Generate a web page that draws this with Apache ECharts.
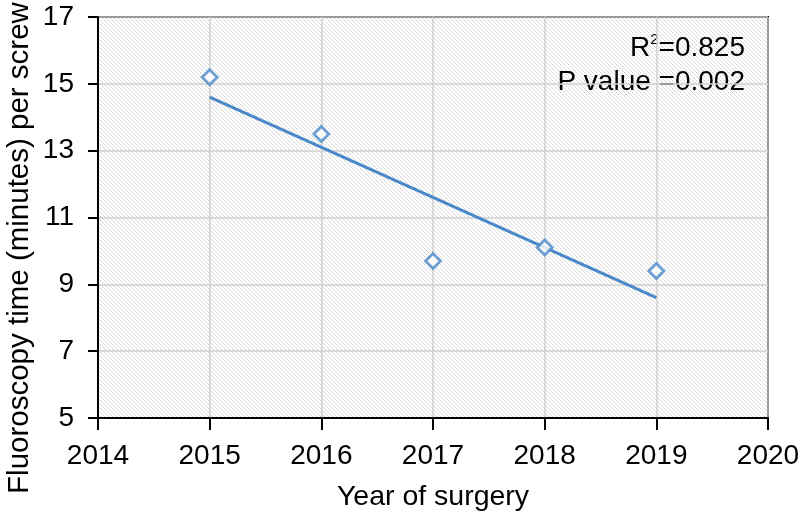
<!DOCTYPE html>
<html>
<head>
<meta charset="utf-8">
<script src="https://cdn.jsdelivr.net/npm/echarts@6/dist/echarts.min.js"></script>
<style>
  html, body { margin: 0; padding: 0; background: #fff; }
  #main { width: 800px; height: 520px; }
</style>
</head>
<body>
<div id="main"></div>
<script>
// data
var years = [2015, 2016, 2017, 2018, 2019];
var fluoroTime = [15.2, 13.5, 9.7, 10.1, 9.4];
var trendYears = [2015, 2019];
var trendValues = [14.6, 8.6];
var statR2 = 'R{sup|2}=0.825';
var statP = 'P value =0.002';
var yTitle = 'Fluoroscopy time (minutes) per screw';

// diagonal hatch for the plot background
function makeHatch() {
    var c = document.createElement('canvas');
    c.width = 4;
    c.height = 4;
    var ctx = c.getContext('2d');
    ctx.fillStyle = '#ffffff';
    ctx.fillRect(0, 0, 4, 4);
    for (var i = 0; i < 4; i++) {
        ctx.fillStyle = (i % 2) ? '#e6e6e6' : '#cfcfcf';
        ctx.fillRect(i, i, 1, 1);
    }
    return c;
}

var myChart = echarts.init(document.getElementById('main'));
var font = '"Liberation Sans", Arial, Helvetica, sans-serif';

var option = {
    animation: false,
    textStyle: { fontFamily: font },
    grid: {
        left: 98, right: 32, top: 17, bottom: 102,
        outerBoundsMode: 'none',
        containLabel: false,
        show: true,
        backgroundColor: { image: makeHatch(), repeat: 'repeat' },
        borderColor: '#000', borderWidth: 2
    },
    xAxis: {
        type: 'value',
        min: 2014, max: 2020, interval: 1,
        name: 'Year of surgery',
        nameLocation: 'middle', nameGap: 65,
        nameTextStyle: { color: '#000', fontSize: 28.5, fontFamily: font },
        axisLine: { lineStyle: { color: '#000', width: 2 } },
        axisTick: { show: true, length: 12, lineStyle: { color: '#000', width: 2 } },
        axisLabel: { color: '#000', fontSize: 28, fontFamily: font, margin: 24,
            formatter: function (v) { return String(v); } },
        splitLine: { show: true, lineStyle: { color: '#d0d0d0', width: 1.5 } }
    },
    yAxis: {
        type: 'value',
        min: 5, max: 17, interval: 2,
        axisLine: { show: true, lineStyle: { color: '#000', width: 2 } },
        axisTick: { show: true, length: 10, lineStyle: { color: '#000', width: 2 } },
        axisLabel: { color: '#000', fontSize: 28, fontFamily: font, margin: 24 },
        splitLine: { show: true, lineStyle: { color: '#d0d0d0', width: 1.5 } }
    },
    series: [
        {
            name: 'trend',
            type: 'line',
            data: trendYears.map(function (x, i) { return [x, trendValues[i]]; }),
            symbol: 'none',
            lineStyle: { color: '#4a88c8', width: 3 },
            z: 2
        },
        {
            name: 'fluoroscopy',
            type: 'scatter',
            data: years.map(function (x, i) { return [x, fluoroTime[i]]; }),
            symbol: 'diamond',
            symbolSize: 15,
            itemStyle: { color: '#fff', borderColor: '#4a88c8', borderWidth: 2.8 },
            z: 3
        }
    ],
    graphic: [
        {
            // y title sits lower than the plot middle in the original
            type: 'text',
            x: 20, y: 248,
            rotation: Math.PI / 2,
            style: {
                text: yTitle,
                fill: '#000',
                font: '29.5px ' + font,
                align: 'center',
                verticalAlign: 'middle'
            }
        },
        {
            type: 'text',
            x: 745, y: 48,
            style: {
                text: statR2,
                fill: '#000',
                font: '28px ' + font,
                align: 'right',
                verticalAlign: 'middle',
                rich: {
                    sup: { fontSize: 15, padding: [0, 0, 16, 0] }
                }
            }
        },
        {
            type: 'text',
            x: 745, y: 82,
            style: {
                text: statP,
                fill: '#000',
                font: '28px ' + font,
                align: 'right',
                verticalAlign: 'middle'
            }
        }
    ]
};

myChart.setOption(option);
</script>
</body>
</html>
